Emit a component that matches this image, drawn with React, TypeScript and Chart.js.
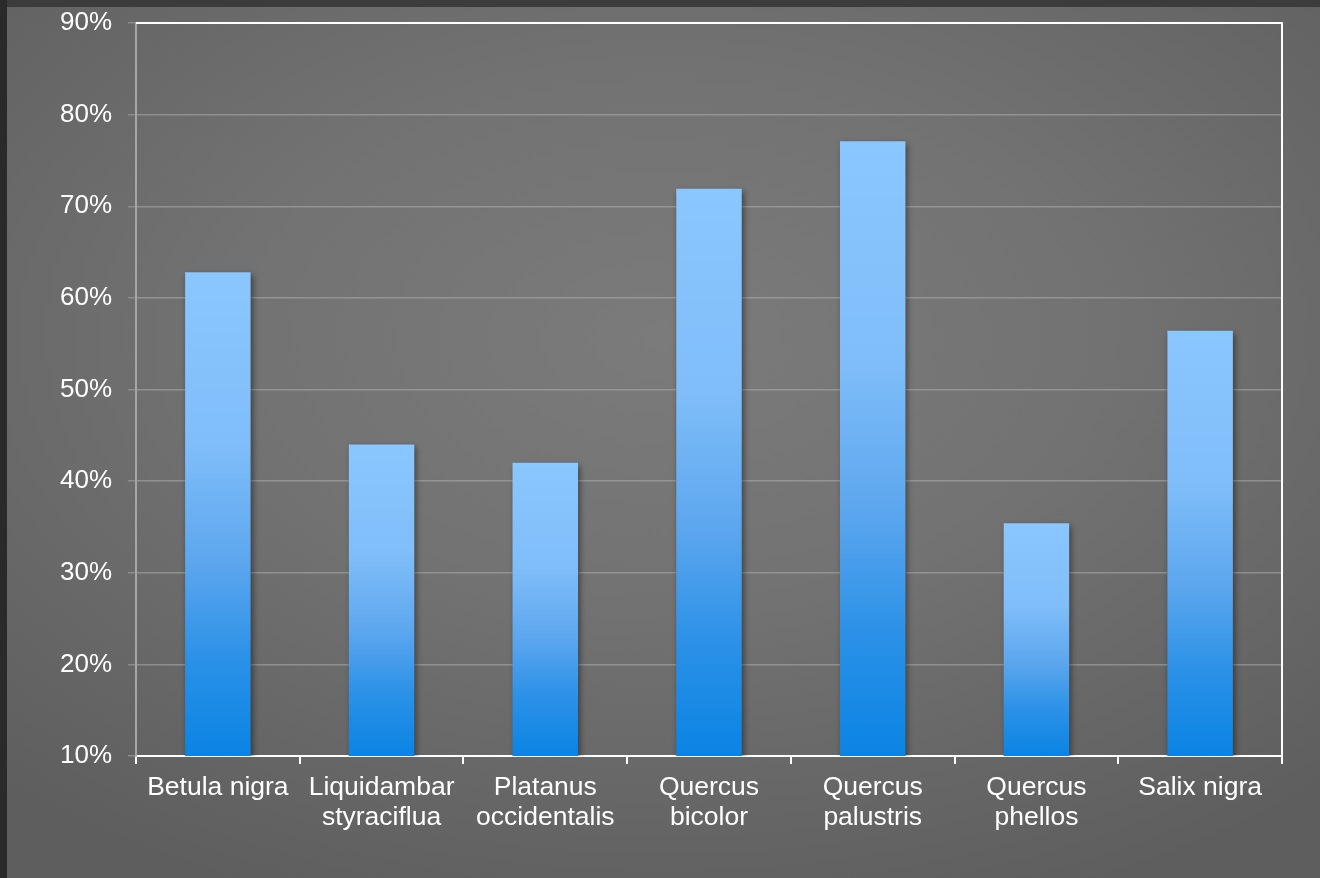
import React, { useEffect, useRef } from "react";
import { Chart, registerables } from "chart.js";

Chart.register(...registerables);

// Species on the category axis (two-line labels where they wrap)
const species: (string | string[])[] = [
  "Betula nigra",
  ["Liquidambar", "styraciflua"],
  ["Platanus", "occidentalis"],
  ["Quercus", "bicolor"],
  ["Quercus", "palustris"],
  ["Quercus", "phellos"],
  "Salix nigra",
];

// Percentage value per species
const percentValues: number[] = [62.8, 44.0, 42.0, 71.9, 77.1, 35.4, 56.4];

// Value axis range and step (percent)
const yMin = 10;
const yMax = 90;
const yStep = 10;

const FONT_FAMILY = "'Liberation Sans', Arial, Helvetica, sans-serif";

// Bars cast a soft shadow; white frame on the top and right of the plot
const framePlugin = {
  id: "frame",
  beforeDatasetsDraw(chart: any) {
    const ctx = chart.ctx;
    ctx.save();
    ctx.shadowColor = "rgba(0,0,0,0.45)";
    ctx.shadowBlur = 6;
    ctx.shadowOffsetX = 2;
    ctx.shadowOffsetY = 3;
  },
  afterDatasetsDraw(chart: any) {
    chart.ctx.restore();
  },
  afterDraw(chart: any) {
    const { ctx, chartArea } = chart;
    ctx.save();
    ctx.strokeStyle = "#ffffff";
    ctx.lineWidth = 2;
    ctx.beginPath();
    ctx.moveTo(chartArea.left, chartArea.top);
    ctx.lineTo(chartArea.right, chartArea.top);
    ctx.lineTo(chartArea.right, chartArea.bottom);
    ctx.stroke();
    ctx.restore();
  },
};

export default function App() {
  const canvasRef = useRef<HTMLCanvasElement | null>(null);

  useEffect(() => {
    const canvas = canvasRef.current;
    if (!canvas) return;

    const chart = new Chart(canvas, {
      type: "bar",
      data: {
        labels: species,
        datasets: [
          {
            data: percentValues,
            barPercentage: 0.4,
            categoryPercentage: 1,
            borderWidth: 0,
            backgroundColor: (c: any) => {
              const ch = c.chart;
              const area = ch.chartArea;
              if (!area || c.raw == null) return "#5aa4ec";
              const top = ch.scales.y.getPixelForValue(c.raw);
              const g = ch.ctx.createLinearGradient(0, top, 0, area.bottom);
              g.addColorStop(0, "#8ac6ff");
              g.addColorStop(0.35, "#80bef9");
              g.addColorStop(0.6, "#5ca6ee");
              g.addColorStop(0.8, "#2b91e7");
              g.addColorStop(1, "#0a84e4");
              return g;
            },
          },
        ],
      },
      options: {
        animation: false,
        responsive: true,
        maintainAspectRatio: false,
        layout: { padding: { top: 16, right: 38, left: 0, bottom: 0 } },
        plugins: {
          legend: { display: false },
          tooltip: { enabled: false },
        },
        scales: {
          x: {
            z: 1,
            offset: true,
            grid: {
              offset: true,
              drawOnChartArea: false,
              drawTicks: true,
              tickLength: 8,
              color: "#ffffff",
              lineWidth: 2,
            },
            border: { display: true, color: "#ffffff", width: 2 },
            ticks: {
              color: "#ffffff",
              padding: 9,
              maxRotation: 0,
              autoSkip: false,
              font: { family: FONT_FAMILY, size: 26.5, lineHeight: 1.13 },
            },
            afterFit(scale: any) {
              scale.height = 122;
              scale.paddingLeft = 0;
              scale.paddingRight = 0;
            },
          },
          y: {
            min: yMin,
            max: yMax,
            grid: {
              color: "rgba(175,175,175,0.55)",
              lineWidth: 1.5,
              tickLength: 8,
              tickColor: "#8c8c8c",
            },
            border: { display: true, color: "#a6a6a6", width: 2 },
            ticks: {
              stepSize: yStep,
              color: "#ffffff",
              padding: 16,
              font: { family: FONT_FAMILY, size: 26 },
              callback: (v: any) => `${v}%`,
            },
            afterFit(scale: any) {
              scale.width = 129;
              scale.paddingTop = 0;
              scale.paddingBottom = 0;
            },
          },
        },
      },
      plugins: [framePlugin],
    } as any);

    return () => chart.destroy();
  }, []);

  return (
    <div
      style={{
        position: "fixed",
        inset: 0,
        background: "linear-gradient(90deg, #2a2a2a 0, #2a2a2a 7px, #3c3c3c 7px)",
      }}
    >
      <div
        style={{
          position: "absolute",
          left: 7,
          top: 7,
          right: 0,
          bottom: 0,
          background:
            "radial-gradient(ellipse 75% 70% at 50% 38%, #7b7b7b 0%, #727272 45%, #676767 75%, #5e5e5e 100%)",
        }}
      >
        <canvas ref={canvasRef} style={{ display: "block", width: "100%", height: "100%" }} />
      </div>
    </div>
  );
}
